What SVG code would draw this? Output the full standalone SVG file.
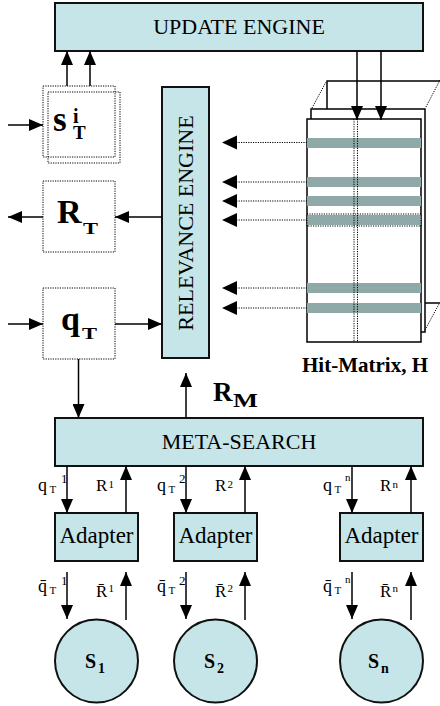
<svg xmlns="http://www.w3.org/2000/svg" width="440" height="706" viewBox="0 0 440 706" font-family="'Liberation Serif', 'Times New Roman', serif">
<style>
.box{fill:#c5e5e8;stroke:#111;stroke-width:2}
.ln{stroke:#000;stroke-width:1.5;fill:none}
.dot{stroke:#000;stroke-width:1;stroke-dasharray:1.2 1.2;fill:none}
.mx{fill:#fff;stroke:#000;stroke-width:1.5}
.stripe{fill:#8fa8a8}
text{font-family:'Liberation Serif','Times New Roman',serif;fill:#000}
.b{font-weight:bold}
</style>
<defs>
<marker id="ah" markerUnits="userSpaceOnUse" markerWidth="14" markerHeight="12" refX="14" refY="6" orient="auto">
<path d="M0,0 L14,6 L0,12 z" fill="#000"/>
</marker>
</defs>

<g id="update-engine">
<rect class="box" x="55" y="3" width="368" height="48"/>
<text x="239" y="34" font-size="22" text-anchor="middle">UPDATE ENGINE</text>
</g>

<g id="relevance-engine">
<rect class="box" x="162" y="87" width="47" height="271"/>
<text transform="translate(193,223) rotate(-90)" font-size="22" text-anchor="middle">RELEVANCE ENGINE</text>
</g>

<g id="s-box">
<rect x="48" y="92" width="72" height="71" fill="#fff" class="dot"/>
<rect x="43" y="86" width="72" height="71" fill="#fff" class="dot"/>
<text class="b" x="53" y="131" font-size="35">s<tspan x="73" y="123" font-size="20">i</tspan><tspan x="73" y="138.5" font-size="19">T</tspan></text>
</g>

<g id="rt-box">
<rect x="43" y="181" width="72" height="71" fill="#fff" class="dot"/>
<text class="b" x="57" y="223" font-size="34">R</text>
<text class="b" x="83" y="233.5" font-size="17" textLength="15" lengthAdjust="spacingAndGlyphs">T</text>
</g>

<g id="qt-box">
<rect x="43" y="288" width="72" height="71" fill="#fff" class="dot"/>
<text class="b" x="61" y="330" font-size="34">q</text>
<text class="b" x="82" y="338.5" font-size="17" textLength="15" lengthAdjust="spacingAndGlyphs">T</text>
</g>

<g id="hit-matrix">
<rect class="mx" x="327" y="81" width="130" height="222"/>
<rect class="mx" x="311" y="109" width="114" height="223"/>
<rect class="mx" x="307" y="119" width="114" height="223"/>
<path class="dot" d="M312,108 L326,82 M426,107 L440,80 M425,330 L439,304"/>
<rect class="stripe" x="307" y="138" width="114" height="10"/>
<rect class="stripe" x="307" y="177" width="114" height="10"/>
<rect class="stripe" x="307" y="196" width="114" height="10"/>
<rect class="stripe" x="307" y="215" width="114" height="10"/>
<rect class="stripe" x="307" y="283" width="114" height="10"/>
<rect class="stripe" x="307" y="303" width="114" height="10"/>
<rect class="dot" x="307" y="214" width="114" height="12"/>
<path class="dot" d="M354,119 L354,342 M357.5,119 L357.5,342"/>
<text class="b" x="365" y="372" font-size="21" text-anchor="middle">Hit-Matrix, H</text>
</g>

<g id="meta-search">
<rect class="box" x="55" y="418" width="368" height="48"/>
<text x="239" y="449" font-size="22" text-anchor="middle">META-SEARCH</text>
</g>

<g id="rm-label">
<text class="b" x="213" y="401" font-size="27">R</text>
<text class="b" x="233" y="407" font-size="18" textLength="25" lengthAdjust="spacingAndGlyphs">M</text>
</g>

<g id="adapter-1">
<rect class="box" x="55" y="513" width="83" height="48"/>
<text x="96.5" y="543" font-size="23" text-anchor="middle">Adapter</text>
</g>
<g id="adapter-2">
<rect class="box" x="174" y="513" width="83" height="48"/>
<text x="215.5" y="543" font-size="23" text-anchor="middle">Adapter</text>
</g>
<g id="adapter-n">
<rect class="box" x="340" y="513" width="83" height="48"/>
<text x="381.5" y="543" font-size="23" text-anchor="middle">Adapter</text>
</g>

<g id="source-1">
<circle class="box" cx="96.5" cy="661" r="41.5"/>
<text class="b" x="85" y="668" font-size="20">S</text>
<text class="b" x="98" y="673" font-size="14">1</text>
</g>
<g id="source-2">
<circle class="box" cx="215.5" cy="661" r="41.5"/>
<text class="b" x="204" y="668" font-size="20">S</text>
<text class="b" x="217" y="673" font-size="14">2</text>
</g>
<g id="source-n">
<circle class="box" cx="381.5" cy="661" r="41.5"/>
<text class="b" x="368" y="668" font-size="20">S</text>
<text class="b" x="381" y="673" font-size="14">n</text>
</g>

<g id="connectors">
<line class="ln" x1="67" y1="86" x2="67" y2="51" marker-end="url(#ah)"/>
<line class="ln" x1="90" y1="86" x2="90" y2="51" marker-end="url(#ah)"/>
<line class="ln" x1="8" y1="125" x2="43" y2="125" marker-end="url(#ah)"/>
<line class="ln" x1="8" y1="324" x2="43" y2="324" marker-end="url(#ah)"/>
<line class="ln" x1="162" y1="217" x2="115" y2="217" marker-end="url(#ah)"/>
<line class="ln" x1="43" y1="217" x2="8" y2="217" marker-end="url(#ah)"/>
<line class="ln" x1="115" y1="324" x2="162" y2="324" marker-end="url(#ah)"/>
<line class="ln" x1="78.5" y1="359" x2="78.5" y2="418" marker-end="url(#ah)"/>
<line class="ln" x1="186" y1="418" x2="186" y2="373" marker-end="url(#ah)"/>
<line class="ln" x1="357" y1="51" x2="357" y2="120" marker-end="url(#ah)"/>
<line class="ln" x1="381" y1="51" x2="381" y2="120" marker-end="url(#ah)"/>
<g class="dot">
<line x1="307" y1="142.5" x2="237" y2="142.5"/>
<line x1="307" y1="182" x2="237" y2="182"/>
<line x1="307" y1="201" x2="237" y2="201"/>
<line x1="307" y1="220" x2="237" y2="220"/>
<line x1="307" y1="288" x2="237" y2="288"/>
<line x1="307" y1="308" x2="237" y2="308"/>
</g>
<g fill="#000">
<path d="M237,135.5 L222,142.5 L237,149.5 z"/>
<path d="M237,175 L222,182 L237,189 z"/>
<path d="M237,194 L222,201 L237,208 z"/>
<path d="M237,213 L222,220 L237,227 z"/>
<path d="M237,281 L222,288 L237,295 z"/>
<path d="M237,301 L222,308 L237,315 z"/>
</g>
<line class="ln" x1="67" y1="466" x2="67" y2="513" marker-end="url(#ah)"/>
<line class="ln" x1="126" y1="513" x2="126" y2="466" marker-end="url(#ah)"/>
<line class="ln" x1="186" y1="466" x2="186" y2="513" marker-end="url(#ah)"/>
<line class="ln" x1="245" y1="513" x2="245" y2="466" marker-end="url(#ah)"/>
<line class="ln" x1="352" y1="466" x2="352" y2="513" marker-end="url(#ah)"/>
<line class="ln" x1="411" y1="513" x2="411" y2="466" marker-end="url(#ah)"/>
<line class="ln" x1="67" y1="572" x2="67" y2="619" marker-end="url(#ah)"/>
<line class="ln" x1="126" y1="620" x2="126" y2="572" marker-end="url(#ah)"/>
<line class="ln" x1="186" y1="572" x2="186" y2="619" marker-end="url(#ah)"/>
<line class="ln" x1="245" y1="620" x2="245" y2="572" marker-end="url(#ah)"/>
<line class="ln" x1="352" y1="572" x2="352" y2="619" marker-end="url(#ah)"/>
<line class="ln" x1="411" y1="620" x2="411" y2="572" marker-end="url(#ah)"/>
</g>

<g id="labels">
<text x="38" y="491" font-size="18">q</text><text x="49.5" y="493" font-size="11">T</text><text x="61" y="483" font-size="13">1</text>
<text x="96" y="491" font-size="17">R</text><text x="108.5" y="488" font-size="11">1</text>
<text x="157" y="491" font-size="18">q</text><text x="168.5" y="493" font-size="11">T</text><text x="179" y="483" font-size="13">2</text>
<text x="215" y="491" font-size="17">R</text><text x="227.5" y="488" font-size="11">2</text>
<text x="323" y="491" font-size="18">q</text><text x="334.5" y="493" font-size="11">T</text><text x="345" y="481" font-size="11">n</text>
<text x="380" y="491" font-size="17">R</text><text x="392.5" y="488" font-size="11">n</text>

<text x="38" y="592" font-size="18">q&#x304;</text><text x="49.5" y="594" font-size="11">T</text><text x="61" y="585" font-size="13">1</text>
<text x="96" y="597" font-size="17">R&#x304;</text><text x="108.5" y="592" font-size="11">1</text>
<text x="157" y="592" font-size="18">q&#x304;</text><text x="168.5" y="594" font-size="11">T</text><text x="179" y="585" font-size="13">2</text>
<text x="215" y="597" font-size="17">R&#x304;</text><text x="227.5" y="592" font-size="11">2</text>
<text x="323" y="592" font-size="18">q&#x304;</text><text x="334.5" y="594" font-size="11">T</text><text x="345" y="583" font-size="11">n</text>
<text x="380" y="597" font-size="17">R&#x304;</text><text x="392.5" y="592" font-size="11">n</text>
</g>
</svg>
